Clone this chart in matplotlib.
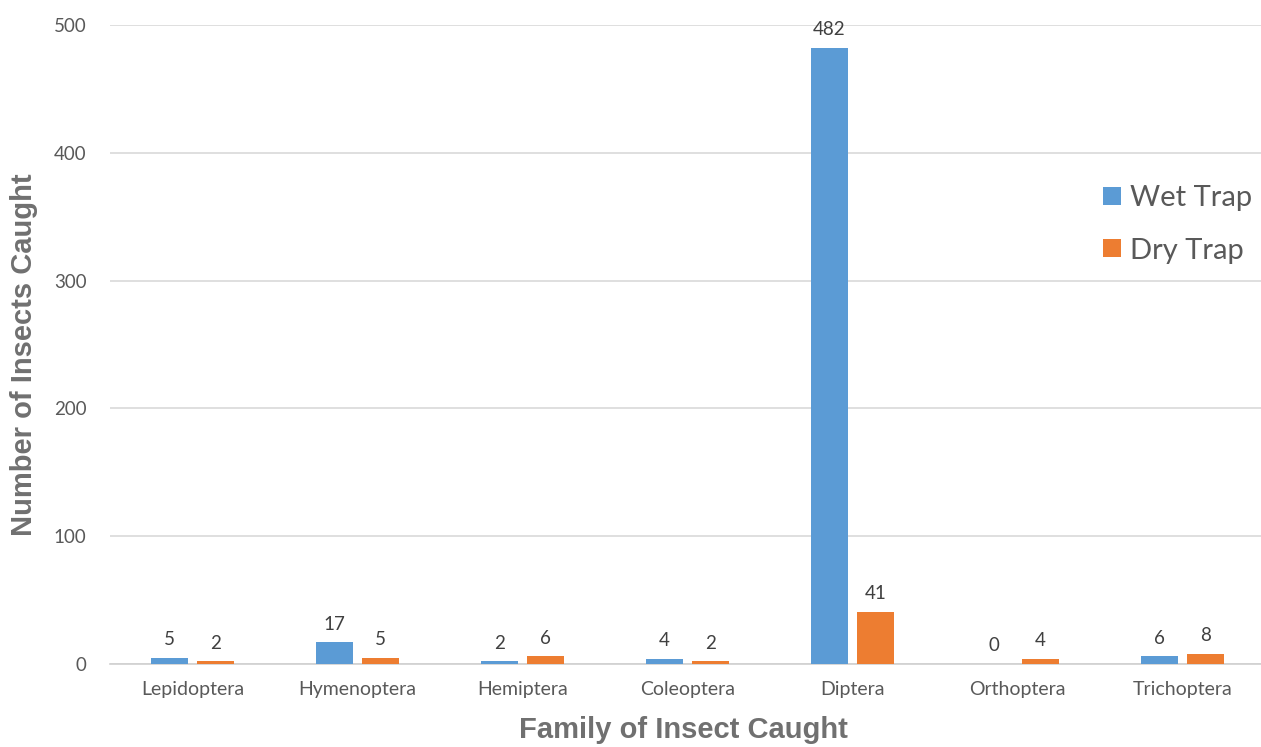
import matplotlib
matplotlib.use("Agg")
import matplotlib.pyplot as plt
import numpy as np

families = ["Lepidoptera", "Hymenoptera", "Hemiptera", "Coleoptera",
            "Diptera", "Orthoptera", "Trichoptera"]
wet_trap = [5, 17, 2, 4, 482, 0, 6]
dry_trap = [2, 5, 6, 2, 41, 4, 8]
y_ticks = [0, 100, 200, 300, 400, 500]

W, H = 1261, 747
fig = plt.figure(figsize=(W / 100, H / 100), dpi=100)
fig.patch.set_facecolor("white")

left, right = 110 / W, 1265 / W
bottom, top = (H - 664) / H, (H - 25) / H
ax = fig.add_axes([left, bottom, right - left, top - bottom])

x = np.arange(len(families))
bw = 0.224
gap = 0.056
wet_color = "#5B9BD5"
dry_color = "#ED7D31"

b1 = ax.bar(x - (bw + gap) / 2, wet_trap, bw, color=wet_color, label="Wet Trap", zorder=3)
b2 = ax.bar(x + (bw + gap) / 2, dry_trap, bw, color=dry_color, label="Dry Trap", zorder=3)

label_font = dict(family="Lato", fontsize=13.5, color="#404040")
for bars, vals in ((b1, wet_trap), (b2, dry_trap)):
    for rect, v in zip(bars, vals):
        ax.annotate(str(v), (rect.get_x() + rect.get_width() / 2, v),
                    xytext=(0, 7), textcoords="offset points",
                    ha="center", va="bottom", **label_font)

ax.set_xlim(-0.5, len(families) - 0.5)
ax.set_ylim(0, 500)
ax.set_yticks(y_ticks)
ax.set_yticklabels([str(t) for t in y_ticks], family="Lato", fontsize=13.5, color="#595959")
ax.set_xticks(x)
ax.set_xticklabels(families, family="Lato", fontsize=14, color="#595959")
ax.tick_params(axis="both", length=0)
ax.tick_params(axis="y", pad=17)
ax.tick_params(axis="x", pad=12)

ax.yaxis.grid(True, color="#D9D9D9", linewidth=1.2, zorder=0)
ax.set_axisbelow(True)
for s in ("top", "right", "left"):
    ax.spines[s].set_visible(False)
ax.spines["bottom"].set_color("#D0D0D0")
ax.spines["bottom"].set_linewidth(1.2)

title_font = dict(family="Liberation Sans", fontsize=21, fontweight="bold", color="#707070")
fig.text(683 / W, 1 - 730 / H, "Family of Insect Caught",
         ha="center", va="center", **title_font)
fig.text(24 / W, 1 - 355 / H, "Number of Insects Caught",
         ha="center", va="center", rotation=90, **title_font)

fig.legend(handles=[b1, b2], labels=["Wet Trap", "Dry Trap"],
           loc="upper left", bbox_to_anchor=(1077 / W, (H - 159) / H),
           frameon=False, prop=dict(family="Lato", size=21),
           handlelength=0.6, handleheight=0.6, handletextpad=0.3,
           labelspacing=0.9, labelcolor="#595959")

fig.savefig("out.png", dpi=100, facecolor="white")
